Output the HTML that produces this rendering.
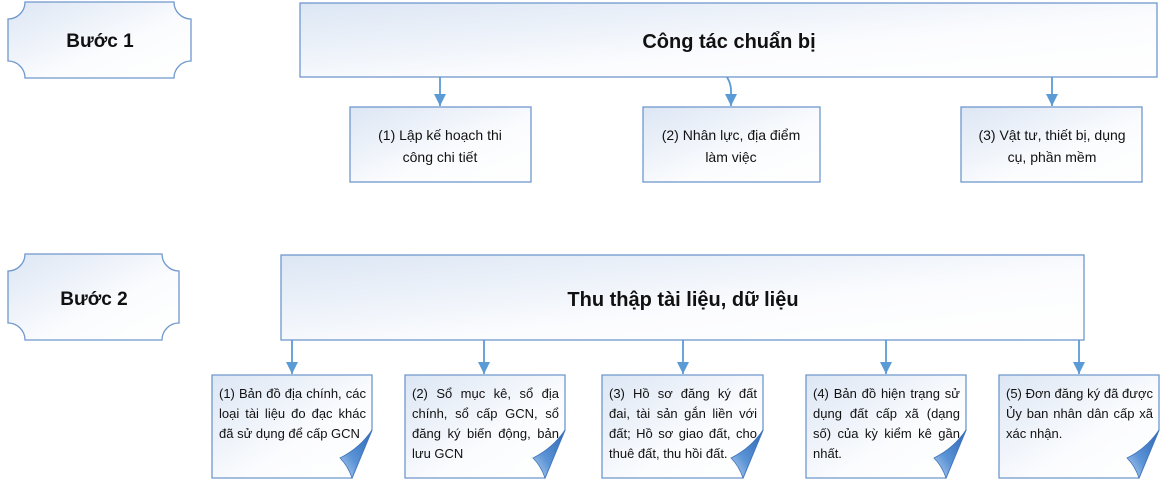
<!DOCTYPE html>
<html><head><meta charset="utf-8"><style>
html,body{margin:0;padding:0;background:#fff;}
svg{display:block;}
text{font-family:"Liberation Sans",sans-serif;fill:#111;}
.b{font-weight:bold;}
.bt{position:absolute;font-family:"Liberation Sans",sans-serif;font-size:13px;line-height:20px;text-align:justify;color:#111;}
</style></head><body>
<div style="position:relative;width:1175px;height:484px;overflow:hidden;">
<svg width="1175" height="484" viewBox="0 0 1175 484">
<defs>
<linearGradient id="g" x1="0" y1="0" x2="1" y2="1"><stop offset="0" stop-color="#dce6f4"/><stop offset="0.6" stop-color="#fbfcfe"/><stop offset="1" stop-color="#ffffff"/></linearGradient>
<linearGradient id="f" x1="1" y1="0" x2="0" y2="1"><stop offset="0" stop-color="#2f67b5"/><stop offset="0.6" stop-color="#5b93d6"/><stop offset="1" stop-color="#bcd4f0"/></linearGradient>
<marker id="a" markerWidth="14" markerHeight="14" refX="12" refY="6" orient="auto" markerUnits="userSpaceOnUse"><path d="M0,0 L12,6 L0,12 Z" fill="#5b9bd5"/></marker>
</defs>
<g stroke="#6f98cc" stroke-width="1.3" fill="url(#g)">
<path d="M25,2 H174 A17,17 0 0 0 191,19 V61 A17,17 0 0 0 174,78 H25 A17,17 0 0 0 8,61 V19 A17,17 0 0 0 25,2 Z"/>
<path d="M25,254 H162 A17,17 0 0 0 179,271 V323 A17,17 0 0 0 162,340 H25 A17,17 0 0 0 8,323 V271 A17,17 0 0 0 25,254 Z"/>
<rect x="300" y="3" width="857" height="74"/>
<rect x="350" y="107" width="181" height="75"/>
<rect x="643" y="107" width="177" height="75"/>
<rect x="961" y="107" width="181" height="75"/>
<rect x="281" y="255" width="803" height="85"/>
</g>
<g stroke="#5b9bd5" stroke-width="1.8" fill="none" marker-end="url(#a)">
<path d="M440,77 V106"/>
<path d="M727,77 Q731,84 731,90 V106"/>
<path d="M1052,77 V106"/>
<path d="M292,340 V374"/>
<path d="M484,340 V374"/>
<path d="M683,340 V374"/>
<path d="M886,340 V374"/>
<path d="M1079,340 V374"/>
</g>
<g stroke="#6f98cc" stroke-width="1.3">
<path d="M212,375 H372 V430 L352,478 H212 Z" fill="url(#g)"/>
<path d="M405,375 H565 V430 L545,478 H405 Z" fill="url(#g)"/>
<path d="M602,375 H763 V430 L743,478 H602 Z" fill="url(#g)"/>
<path d="M806,375 H966 V430 L946,478 H806 Z" fill="url(#g)"/>
<path d="M999,375 H1159 V430 L1139,478 H999 Z" fill="url(#g)"/>
</g>
<g fill="url(#f)" stroke="#3f74bd" stroke-width="0.8">
<path d="M372,430 L352,478 Q348,466 340,458 Q360,448 372,430 Z"/>
<path d="M565,430 L545,478 Q541,466 533,458 Q553,448 565,430 Z"/>
<path d="M763,430 L743,478 Q739,466 731,458 Q751,448 763,430 Z"/>
<path d="M966,430 L946,478 Q942,466 934,458 Q954,448 966,430 Z"/>
<path d="M1159,430 L1139,478 Q1135,466 1127,458 Q1147,448 1159,430 Z"/>
</g>
<text class="b" x="100" y="47" font-size="19" text-anchor="middle">Bước 1</text>
<text class="b" x="94" y="305" font-size="19" text-anchor="middle">Bước 2</text>
<text class="b" x="729" y="48" font-size="20" text-anchor="middle">Công tác chuẩn bị</text>
<text class="b" x="683" y="306" font-size="20" text-anchor="middle">Thu thập tài liệu, dữ liệu</text>
<g font-size="14" text-anchor="middle">
<text x="440" y="140">(1) Lập kế hoạch thi</text>
<text x="440" y="162">công chi tiết</text>
<text x="731" y="140">(2) Nhân lực, địa điểm</text>
<text x="731" y="162">làm việc</text>
<text x="1052" y="140">(3) Vật tư, thiết bị, dụng</text>
<text x="1052" y="162">cụ, phần mềm</text>
</g>
</svg>
<div class="bt" style="left:219px;top:384px;width:147px;">(1) Bản đồ địa chính, các loại tài liệu đo đạc khác đã sử dụng để cấp GCN</div>
<div class="bt" style="left:412px;top:384px;width:147px;">(2) Sổ mục kê, sổ địa chính, sổ cấp GCN, sổ đăng ký biến động, bản lưu GCN</div>
<div class="bt" style="left:609px;top:384px;width:148px;">(3) Hồ sơ đăng ký đất đai, tài sản gắn liền với đất; Hồ sơ giao đất, cho thuê đất, thu hồi đất.</div>
<div class="bt" style="left:813px;top:384px;width:147px;">(4) Bản đồ hiện trạng sử dụng đất cấp xã (dạng số) của kỳ kiểm kê gần nhất.</div>
<div class="bt" style="left:1006px;top:384px;width:147px;">(5) Đơn đăng ký đã được Ủy ban nhân dân cấp xã xác nhận.</div>
</div>
</body></html>
